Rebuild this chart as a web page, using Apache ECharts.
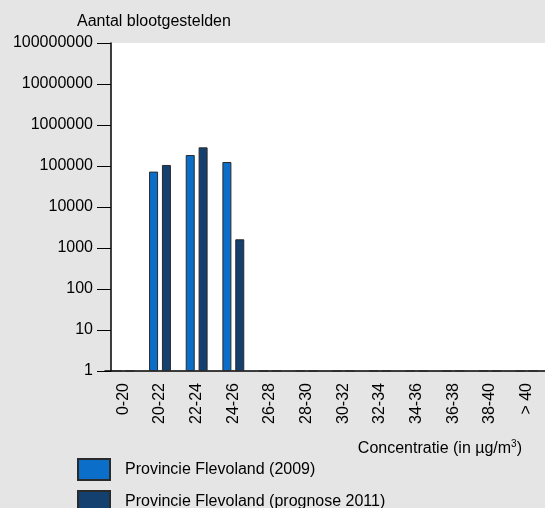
<!DOCTYPE html>
<html>
<head>
<meta charset="utf-8">
<script src="https://cdn.jsdelivr.net/npm/echarts@6/dist/echarts.min.js"></script>
<style>
html,body{margin:0;padding:0;background:#e5e5e5;}
#c{width:545px;height:508px;}
</style>
</head>
<body>
<div id="c"></div>
<script>
const categories = ['0-20','20-22','22-24','24-26','26-28','28-30','30-32','32-34','34-36','36-38','38-40','> 40'];
const series2009 = [1, 73000, 185000, 125000, 1, 1, 1, 1, 1, 1, 1, 1];
const series2011 = [1, 106000, 285000, 1630, 1, 1, 1, 1, 1, 1, 1, 1];
const seriesNames = ['Provincie Flevoland (2009)', 'Provincie Flevoland (prognose 2011)'];
const yTitle = 'Aantal blootgestelden';
const xTitle = 'Concentratie (in µg/m{sup|3})';

const chart = echarts.init(document.getElementById('c'), null, {renderer: 'canvas'});
const font = 'Liberation Sans, Arial, sans-serif';
chart.setOption({
  backgroundColor: '#e5e5e5',
  animation: false,
  textStyle: {fontFamily: font},
  title: [
    {text: yTitle, left: 77, top: 14, padding: 0,
     textStyle: {fontSize: 16, fontWeight: 'normal', color: '#000', fontFamily: font}},
    {text: xTitle, right: 23, top: 438, padding: 0,
     textStyle: {fontSize: 16, fontWeight: 'normal', color: '#000', fontFamily: font, lineHeight: 22,
       rich: {sup: {fontSize: 10, lineHeight: 22, padding: [0,0,10,0], color: '#000', fontFamily: font}}}}
  ],
  legend: {
    orient: 'vertical', left: 77, top: 458, height: 80, itemWidth: 32, itemHeight: 21, itemGap: 9,
    icon: 'rect', padding: 0,
    textStyle: {fontSize: 16, color: '#000', fontFamily: font, padding: [0,0,0,10]},
    data: seriesNames
  },
  grid: [
    {left: 105, right: -7, top: 43, bottom: 137, containLabel: false},
    {left: 111, right: 0, top: 43, bottom: 137, show: true, backgroundColor: '#fff', borderWidth: 0, z: 0}
  ],
  xAxis: [
    {type: 'category', data: categories, gridIndex: 0,
     axisLine: {lineStyle: {color: '#000', width: 1.5}},
     axisTick: {show: false},
     axisLabel: {rotate: 90, fontSize: 16, color: '#000', margin: 12, fontFamily: font}},
    {type: 'value', gridIndex: 1, show: false}
  ],
  yAxis: [
    {type: 'log', logBase: 10, min: 1, max: 100000000, splitNumber: 8, gridIndex: 0, offset: -6,
     axisLine: {show: true, lineStyle: {color: '#000', width: 1.5}},
     axisTick: {show: true, length: 14, lineStyle: {color: '#000'}},
     splitLine: {show: false},
     axisLabel: {fontSize: 16, color: '#000', margin: 18, fontFamily: font, formatter: v => String(Math.round(v))}},
    {type: 'value', gridIndex: 1, show: false}
  ],
  series: [
    {name: seriesNames[0], type: 'bar', data: series2009, barWidth: 9, barGap: '43%',
     itemStyle: {color: '#0b6fc9', borderColor: '#2a2a2a', borderWidth: 1}},
    {name: seriesNames[1], type: 'bar', data: series2011, barWidth: 9,
     itemStyle: {color: '#14406f', borderColor: '#2a2a2a', borderWidth: 1}}
  ]
});
</script>
</body>
</html>
